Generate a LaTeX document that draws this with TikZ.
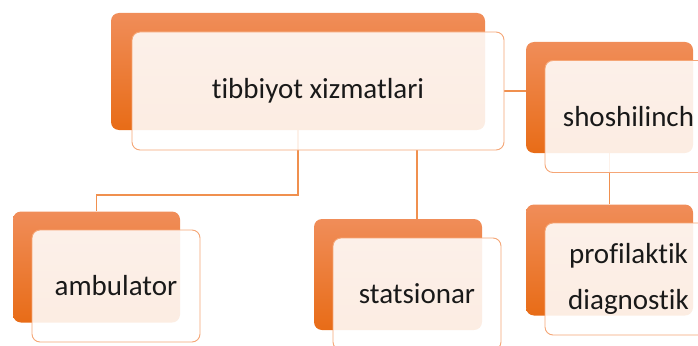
\documentclass[tikz,border=0pt]{standalone}
\usepackage{fontspec}
\setmainfont{Carlito}[Ligatures={NoCommon,NoContextual}]
\usetikzlibrary{backgrounds}
\definecolor{backtop}{HTML}{F08D59}
\definecolor{backbot}{HTML}{E86C17}
\definecolor{frontline}{HTML}{F5A676}
\definecolor{linkline}{HTML}{F0904F}
\tikzset{inner sep=0pt}

\begin{document}
\begin{tikzpicture}[x=1pt,y=-1pt,
            back/.style={rounded corners=8pt,top color=backtop,bottom color=backbot,minimum height=111pt},
            front/.style={rounded corners=8pt,draw=frontline,line width=0.9pt,fill=white,fill opacity=0.88,
                text opacity=1,text=black!90,minimum height=112pt,align=center,font=\fontsize{29}{46}\selectfont},
            link/.style={draw=linkline,line width=1.2pt}
            ]
            \useasboundingbox (0,0) rectangle (698,345);
            \clip (0,0) rectangle (698,345);
            % main box
            \node[back,minimum width=374pt,minimum height=117pt] (topb) at (298,71.5) {};
            \node[front,minimum width=372pt,minimum height=118pt] (topf) at (318,91) {tibbiyot xizmatlari};
            % right column
            \node[back,minimum width=167pt] (shob) at (609.5,97.5) {};
            \node[front,minimum width=167pt] (shof) at (628.5,116.5) {shoshilinch};
            \node[back,minimum width=167pt] (prob) at (609.5,260) {};
            \node[front,minimum width=167pt] (prof) at (628.5,279) {profilaktik\\diagnostik};
            % bottom row
            \node[back,minimum width=167pt] (ambb) at (96.5,267) {};
            \node[front,minimum width=168pt] (ambf) at (116,286) {ambulator};
            \node[back,minimum width=168pt] (stsb) at (398,274.5) {};
            \node[front,minimum width=168pt] (stsf) at (417,294) {statsionar};
            \coordinate (split) at (0,195);
            \begin{scope}[on background layer]
                \draw[link] (topf.east) -- (topf.east -| shob.west);
                \draw[link] (shob.south) -- (prob.north);
                \draw[link] (topb.south) -- (topb.south |- split) -| (ambb.north);
                \draw[link] (topf.south -| stsf.north) -- (stsb.north -| stsf.north);
            \end{scope}
        \end{tikzpicture}
\end{document}
